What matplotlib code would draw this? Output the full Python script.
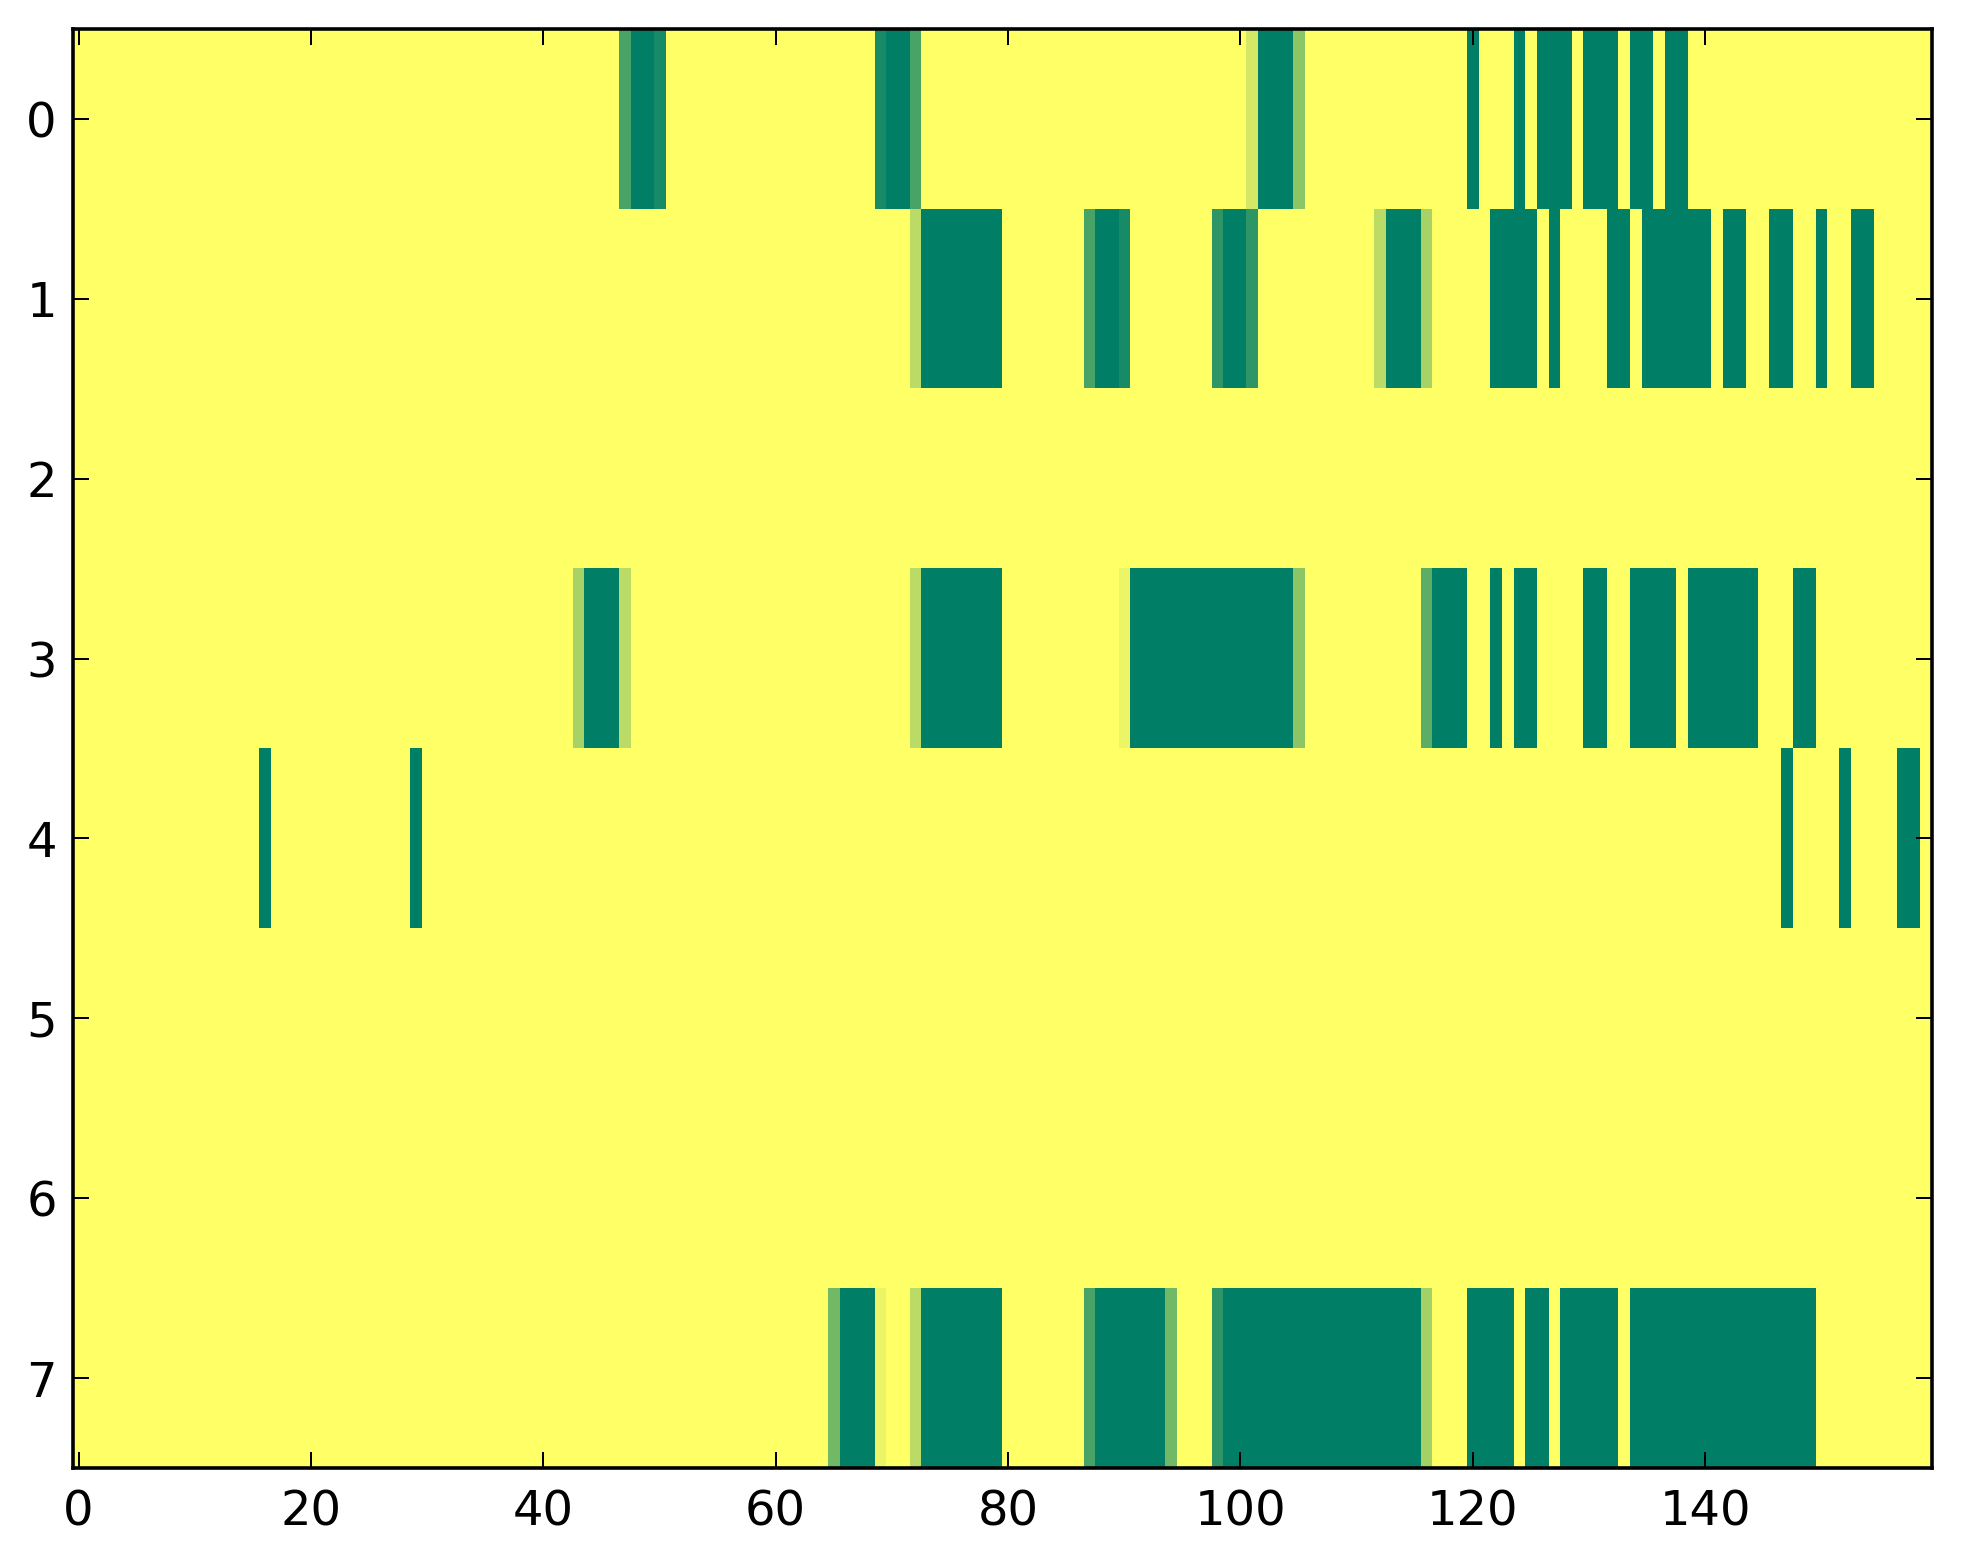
import numpy as np
import matplotlib
matplotlib.use("Agg")
import matplotlib.pyplot as plt

n_rows = 8
n_cols = 160

# runs per row: (first column, last column, value)
row0_runs = [(47, 47, 0.72), (48, 49, 1.0), (50, 50, 0.91),
             (69, 69, 0.91), (70, 71, 1.0), (72, 72, 0.72),
             (101, 101, 0.17), (102, 104, 1.0), (105, 105, 0.45),
             (120, 120, 1.0), (124, 124, 1.0), (126, 128, 1.0),
             (130, 132, 1.0), (134, 135, 1.0), (137, 138, 1.0)]
row1_runs = [(72, 72, 0.27), (73, 79, 1.0),
             (87, 87, 0.72), (88, 89, 1.0), (90, 90, 0.91),
             (98, 98, 0.82), (99, 100, 1.0), (101, 101, 0.82),
             (112, 112, 0.27), (113, 115, 1.0), (116, 116, 0.35),
             (122, 125, 1.0), (127, 127, 1.0), (132, 133, 1.0),
             (135, 140, 1.0), (142, 143, 1.0), (146, 147, 1.0),
             (150, 150, 1.0), (153, 154, 1.0)]
row2_runs = []
row3_runs = [(43, 43, 0.35), (44, 46, 1.0), (47, 47, 0.27),
             (72, 72, 0.27), (73, 79, 1.0),
             (90, 90, 0.08), (91, 104, 1.0), (105, 105, 0.45),
             (116, 116, 0.64), (117, 119, 1.0), (122, 122, 1.0),
             (124, 125, 1.0), (130, 131, 1.0), (134, 137, 1.0),
             (139, 144, 1.0), (148, 149, 1.0)]
row4_runs = [(16, 16, 1.0), (29, 29, 1.0), (147, 147, 1.0),
             (152, 152, 1.0), (157, 158, 1.0)]
row5_runs = []
row6_runs = []
row7_runs = [(65, 65, 0.55), (66, 68, 1.0), (69, 69, 0.08),
             (72, 72, 0.27), (73, 79, 1.0),
             (87, 87, 0.72), (88, 93, 1.0), (94, 94, 0.55),
             (98, 98, 0.82), (99, 115, 1.0), (116, 116, 0.36),
             (120, 123, 1.0), (125, 126, 1.0), (128, 132, 1.0),
             (134, 149, 1.0)]

all_runs = [row0_runs, row1_runs, row2_runs, row3_runs,
            row4_runs, row5_runs, row6_runs, row7_runs]

x_ticks = [0, 20, 40, 60, 80, 100, 120, 140]
y_ticks = [0, 1, 2, 3, 4, 5, 6, 7]

data = np.zeros((n_rows, n_cols))
for r, runs in enumerate(all_runs):
    for a, b, v in runs:
        data[r, a:b + 1] = v

plt.rcParams['font.family'] = ['DejaVu Sans']
dpi = 288
fig = plt.figure(figsize=(1963 / dpi, 1564 / dpi), dpi=dpi, facecolor='white')
ax = fig.add_axes([72.7 / 1963, 1 - 1468 / 1564, (1931.7 - 72.7) / 1963, (1468 - 29) / 1564])
ax.imshow(data, cmap='summer_r', vmin=0, vmax=1, aspect='auto',
          interpolation='nearest')
ax.set_xticks(x_ticks)
ax.set_yticks(y_ticks)
ax.set_xlim(-0.5, n_cols - 0.5)
ax.set_ylim(n_rows - 0.5, -0.5)
ax.tick_params(direction='in', length=4, width=0.5, top=True, right=True,
               labelsize=12, color='black')
ax.tick_params(axis='x', pad=5)
ax.tick_params(axis='y', pad=4)
for s in ax.spines.values():
    s.set_linewidth(0.9)
    s.set_color('black')

fig.savefig('out.png', dpi=dpi, facecolor='white')
